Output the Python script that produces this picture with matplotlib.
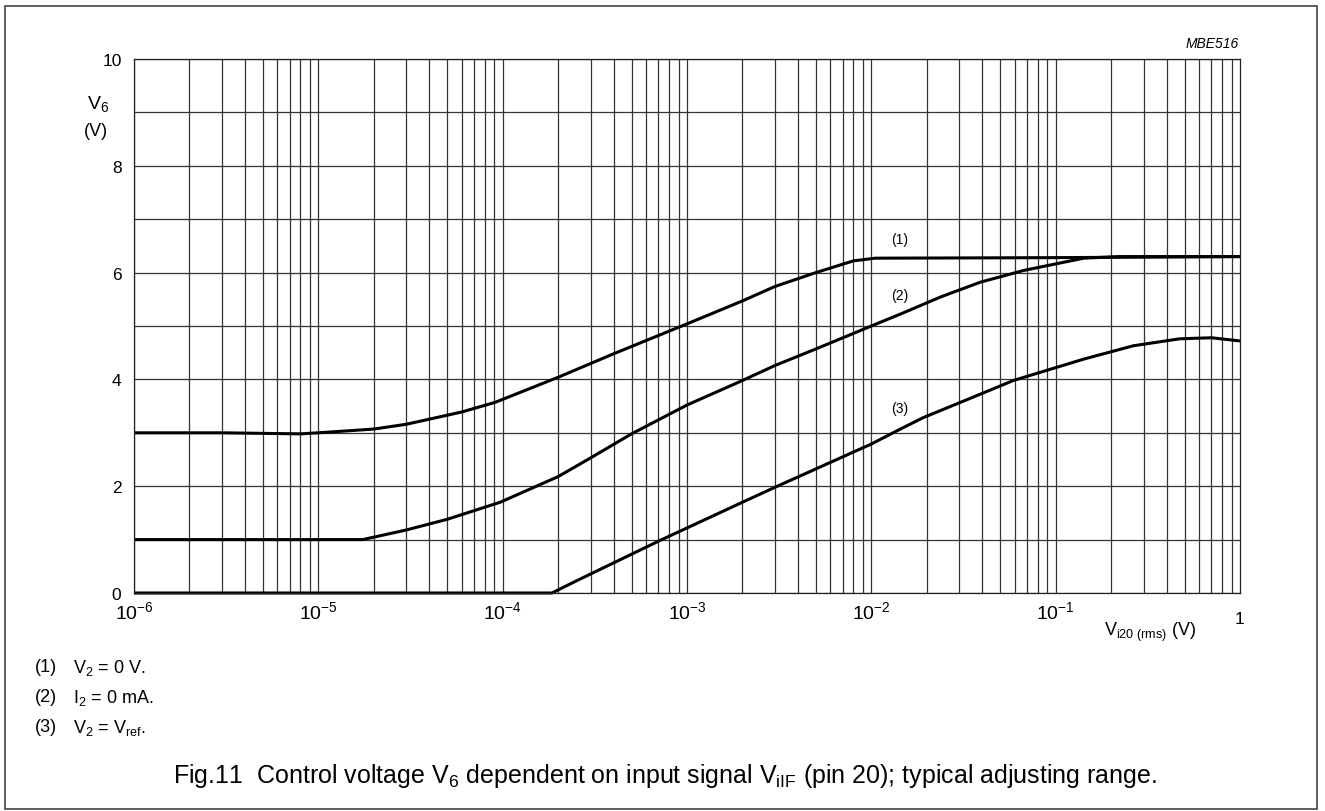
import numpy as np
import matplotlib.pyplot as plt
from matplotlib.patches import Rectangle
from matplotlib.ticker import LogLocator, FixedLocator, NullFormatter

plt.rcParams['font.family'] = ['Liberation Sans', 'DejaVu Sans']
plt.rcParams['mathtext.fontset'] = 'custom'
plt.rcParams['mathtext.rm'] = 'Liberation Sans'
plt.rcParams['mathtext.it'] = 'Liberation Sans:italic'

# curve (1)  V2 = 0 V
x1 = [1e-6, 3e-6, 8e-6, 1e-5, 2e-5, 3e-5, 6e-5, 9.1e-5, 2e-4, 4e-4, 1e-3, 2e-3, 3e-3, 5e-3, 8e-3, 1.05e-2, 0.1, 1.0]
y1 = [3.0, 3.0, 2.98, 3.0, 3.07, 3.16, 3.39, 3.57, 4.04, 4.48, 5.04, 5.47, 5.74, 6.0, 6.22, 6.27, 6.28, 6.3]
# curve (2)  I2 = 0 mA
x2 = [1e-6, 1.74e-5, 3e-5, 5e-5, 9.7e-5, 2e-4, 3e-4, 5e-4, 1e-3, 2e-3, 3e-3, 5e-3, 1.12e-2, 1.43e-2,
      2.4e-2, 3.9e-2, 6.7e-2, 0.142, 0.22, 1.0]
y2 = [1.0, 1.0, 1.18, 1.38, 1.70, 2.18, 2.53, 2.98, 3.52, 3.98, 4.26, 4.57, 5.07, 5.22,
      5.55, 5.82, 6.04, 6.27, 6.3, 6.3]
# curve (3)  V2 = Vref
x3 = [1e-6, 1.85e-4, 2.52e-4, 7.1e-4, 2e-3, 3e-3, 1e-2, 1.4e-2, 1.9e-2, 3.3e-2, 5.9e-2, 0.142,
      0.264, 0.47, 0.7, 1.0]
y3 = [0.0, 0.0, 0.23, 0.98, 1.70, 1.98, 2.79, 3.05, 3.28, 3.62, 3.98, 4.38,
      4.63, 4.76, 4.78, 4.72]

curve_labels = ['(1)', '(2)', '(3)']
label_x = [0.0142, 0.0142, 0.0142]
label_y = [6.63, 5.58, 3.46]

note_nums = ['(1)', '(2)', '(3)']
note_texts = [r'V$_{\rm 2}$ = 0 V.', r'I$_{\rm 2}$ = 0 mA.', r'V$_{\rm 2}$ = V$_{\rm ref}$.']
caption = r'Fig.11  Control voltage V$_{\rm 6}$ dependent on input signal V$_{\rm iIF}$ (pin 20); typical adjusting range.'

W, H = 1325, 812
fig = plt.figure(figsize=(W / 100, H / 100), dpi=100)
ax = fig.add_axes([134 / W, 1 - 594 / H, 1106 / W, 534 / H])

ax.set_xscale('log')
ax.set_xlim(1e-6, 1)
ax.set_ylim(0, 10)

ax.xaxis.set_minor_locator(LogLocator(base=10, subs=np.arange(2, 10), numticks=20))
ax.xaxis.set_minor_formatter(NullFormatter())
ax.yaxis.set_major_locator(FixedLocator([0, 2, 4, 6, 8, 10]))
ax.yaxis.set_minor_locator(FixedLocator([1, 3, 5, 7, 9]))

ax.grid(True, which='both', color='#333333', lw=0.9)
ax.set_axisbelow(True)
ax.tick_params(which='both', length=0)
ax.tick_params(axis='y', labelsize=12.5, pad=9)
ax.tick_params(axis='x', labelsize=14, pad=5)
ax.set_xticks([1e-6, 1e-5, 1e-4, 1e-3, 1e-2, 1e-1])
ax.set_xticklabels([r'$\mathregular{10^{-6}}$', r'$\mathregular{10^{-5}}$', r'$\mathregular{10^{-4}}$',
                    r'$\mathregular{10^{-3}}$', r'$\mathregular{10^{-2}}$', r'$\mathregular{10^{-1}}$'])
for s in ax.spines.values():
    s.set_color('#222222')
    s.set_linewidth(0.9)

for xs, ys in [(x1, y1), (x2, y2), (x3, y3)]:
    ax.plot(xs, ys, color='black', lw=2.2, clip_on=False, solid_capstyle='butt', solid_joinstyle='round')

for t, lx, ly in zip(curve_labels, label_x, label_y):
    ax.text(lx, ly, t, fontsize=10, ha='center', va='center')

# axis labels
fig.text(1240 / W, 1 - 619 / H, '1', fontsize=12.5, ha='center', va='center')
fig.text(1104 / W, 1 - 632 / H, r'V$_{\rm i20\ (rms)}$ (V)', fontsize=13, ha='left', va='center')
fig.text(98 / W, 1 - 104 / H, r'V$_{\rm 6}$', fontsize=14, ha='center', va='center')
fig.text(96 / W, 1 - 131 / H, '(V)', fontsize=13, ha='center', va='center')
fig.text(1239 / W, 1 - 44 / H, 'MBE516', fontsize=10, style='italic', ha='right', va='center')

for i, (n, t) in enumerate(zip(note_nums, note_texts)):
    y = 1 - (668 + 30 * i) / H
    fig.text(35 / W, y, n, fontsize=13, ha='left', va='center')
    fig.text(73 / W, y, t, fontsize=13, ha='left', va='center')
fig.text(665 / W, 1 - 776 / H, caption, fontsize=18, ha='center', va='center')

fig.patches.append(Rectangle((5 / W, 1 - 810 / H), 1312 / W, 803 / H, transform=fig.transFigure,
                             fill=False, edgecolor='#444444', lw=1.2))

fig.savefig('out.png', dpi=100)
